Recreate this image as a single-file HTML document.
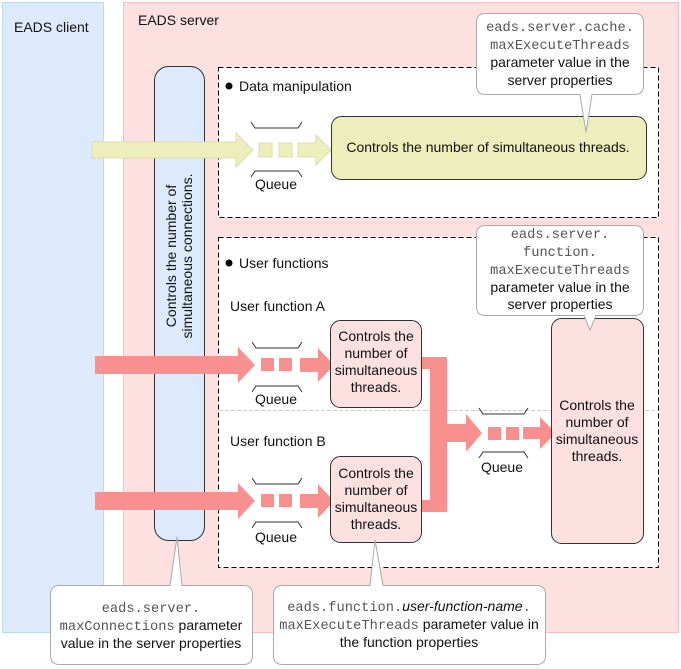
<!DOCTYPE html>
<html><head><style>body{margin:0;background:#fff}svg{display:block}text{font-family:"Liberation Sans",sans-serif;font-size:14px;fill:#111}.m{font-family:"Liberation Mono",monospace;fill:#555;font-size:13.7px}</style></head><body>
<svg width="681" height="669" viewBox="0 0 681 669">
<rect x="2.5" y="2.5" width="101" height="630" fill="#dceafc" stroke="#bcd8f5"/>
<rect x="123.5" y="2.5" width="555" height="630" fill="#fde0e0" stroke="#f5c0c0"/>
<text x="14" y="32">EADS client</text>
<text x="138" y="25">EADS server</text>
<rect x="218.5" y="67.5" width="440" height="150" fill="#fff" stroke="#000" stroke-dasharray="5,3"/>
<rect x="218.5" y="237.5" width="440" height="330" fill="#fff" stroke="#000" stroke-dasharray="5,3"/>
<line x1="219" y1="410.5" x2="658" y2="410.5" stroke="#ccc" stroke-dasharray="4,2"/>
<rect x="154.5" y="66.5" width="50" height="474" rx="14" fill="#dceafc" stroke="#333"/>
<text transform="translate(176,256) rotate(-90)" text-anchor="middle">Controls the number of</text>
<text transform="translate(192,256) rotate(-90)" text-anchor="middle">simultaneous connections.</text>
<circle cx="229" cy="86" r="3.5" fill="#000"/><text x="239" y="91">Data manipulation</text>
<circle cx="229" cy="263" r="3.5" fill="#000"/><text x="239" y="268">User functions</text>
<text x="230" y="311">User function A</text>
<text x="230" y="446">User function B</text>
<g fill="#eeeebc" stroke="#ddddb0">
<polygon points="92,142 236,142 236,133 253,150 236,167 236,158 92,158"/>
<rect x="259" y="143" width="13" height="14"/><rect x="279" y="143" width="13" height="14"/>
<polygon points="298,143 316,143 316,135 331,150 316,165 316,157 298,157"/>
</g>
<rect x="331.5" y="116.5" width="315" height="63" rx="10" fill="#eeeebc" stroke="#333"/>
<text x="488" y="152" text-anchor="middle">Controls the number of simultaneous threads.</text>
<g fill="none" stroke="#333"><path d="M251 122 l4 6 h43 l4 -6 M251 177 l4 -6 h43 l4 6"/>
<path d="M252 342 l4 6 h42 l4 -6 M252 392 l4 -6 h42 l4 6"/>
<path d="M252 478 l4 6 h42 l4 -6 M252 528 l4 -6 h42 l4 6"/>
<path d="M479 408 l4 6 h41 l4 -6 M479 458 l4 -6 h41 l4 6"/></g>
<text x="276" y="189" text-anchor="middle">Queue</text>
<text x="276" y="404" text-anchor="middle">Queue</text>
<text x="276" y="542" text-anchor="middle">Queue</text>
<text x="502" y="472" text-anchor="middle">Queue</text>
<g fill="#f99090">
<polygon points="95,356 238,356 238,347 255,365 238,383 238,374 95,374"/>
<rect x="261" y="358" width="13" height="13"/><rect x="279" y="358" width="13" height="13"/>
<polygon points="300,358 318,358 318,348 334,365 318,382 318,372 300,372"/>
<polygon points="95,492 238,492 238,483 255,501 238,519 238,510 95,510"/>
<rect x="261" y="494" width="13" height="13"/><rect x="279" y="494" width="13" height="13"/>
<polygon points="300,494 318,494 318,484 334,501 318,518 318,508 300,508"/>
<polygon points="421,357 447,357 447,424 466,424 466,414 482,433 466,452 466,442 447,442 447,512 421,512 421,500 430,500 430,369 421,369"/>
<rect x="488" y="427" width="13" height="13"/><rect x="506" y="427" width="13" height="13"/>
<polygon points="523,427 540,427 540,417 556,433 540,449 540,439 523,439"/>
</g>
<rect x="330.5" y="320.5" width="91" height="87" rx="10" fill="#fde0e0" stroke="#333"/>
<rect x="330.5" y="456.5" width="91" height="86" rx="10" fill="#fde0e0" stroke="#333"/>
<rect x="551.5" y="318.5" width="92" height="225" rx="10" fill="#fde0e0" stroke="#333"/>
<g text-anchor="middle">
<text x="376" y="341">Controls the</text><text x="376" y="358">number of</text><text x="376" y="375">simultaneous</text><text x="376" y="392">threads.</text>
<text x="376" y="478">Controls the</text><text x="376" y="495">number of</text><text x="376" y="512">simultaneous</text><text x="376" y="529">threads.</text>
<text x="597" y="410">Controls the</text><text x="597" y="427">number of</text><text x="597" y="444">simultaneous</text><text x="597" y="461">threads.</text>
</g>
<g fill="#fff" stroke="#aaa">
<path d="M485.5 13.5 H634.5 Q643.5 13.5 643.5 22.5 V85.5 Q643.5 94.5 634.5 94.5 H592 L586 132 L580 94.5 H485.5 Q476.5 94.5 476.5 85.5 V22.5 Q476.5 13.5 485.5 13.5Z"/>
<path d="M485.5 225.5 H634.5 Q643.5 225.5 643.5 234.5 V306.5 Q643.5 315.5 634.5 315.5 H596 L590 330 L584 315.5 H485.5 Q476.5 315.5 476.5 306.5 V234.5 Q476.5 225.5 485.5 225.5Z"/>
<path d="M59.5 585.5 H170 L177 537 L182 585.5 H243.5 Q252.5 585.5 252.5 594.5 V655.5 Q252.5 664.5 243.5 664.5 H59.5 Q50.5 664.5 50.5 655.5 V594.5 Q50.5 585.5 59.5 585.5Z"/>
<path d="M282.5 585.5 H370 L375 540 L383 585.5 H536.5 Q545.5 585.5 545.5 594.5 V655.5 Q545.5 664.5 536.5 664.5 H282.5 Q273.5 664.5 273.5 655.5 V594.5 Q273.5 585.5 282.5 585.5Z"/>
</g>
<g text-anchor="middle">
<text class="m" x="560" y="31">eads.server.cache.</text>
<text class="m" x="560" y="49">maxExecuteThreads</text>
<text x="560" y="67">parameter value in the</text>
<text x="560" y="85">server properties</text>
<text class="m" x="560" y="238">eads.server.</text>
<text class="m" x="560" y="256">function.</text>
<text class="m" x="560" y="274">maxExecuteThreads</text>
<text x="560" y="292">parameter value in the</text>
<text x="560" y="309">server properties</text>
<text class="m" x="151" y="612">eads.server.</text>
<text x="151" y="630"><tspan class="m">maxConnections</tspan> parameter</text>
<text x="151" y="648">value in the server properties</text>
<text x="409" y="611"><tspan class="m">eads.function.</tspan><tspan font-style="italic">user-function-name</tspan><tspan class="m">.</tspan></text>
<text x="409" y="629"><tspan class="m">maxExecuteThreads</tspan> parameter value in</text>
<text x="409" y="647">the function properties</text>
</g>
</svg>
</body></html>
